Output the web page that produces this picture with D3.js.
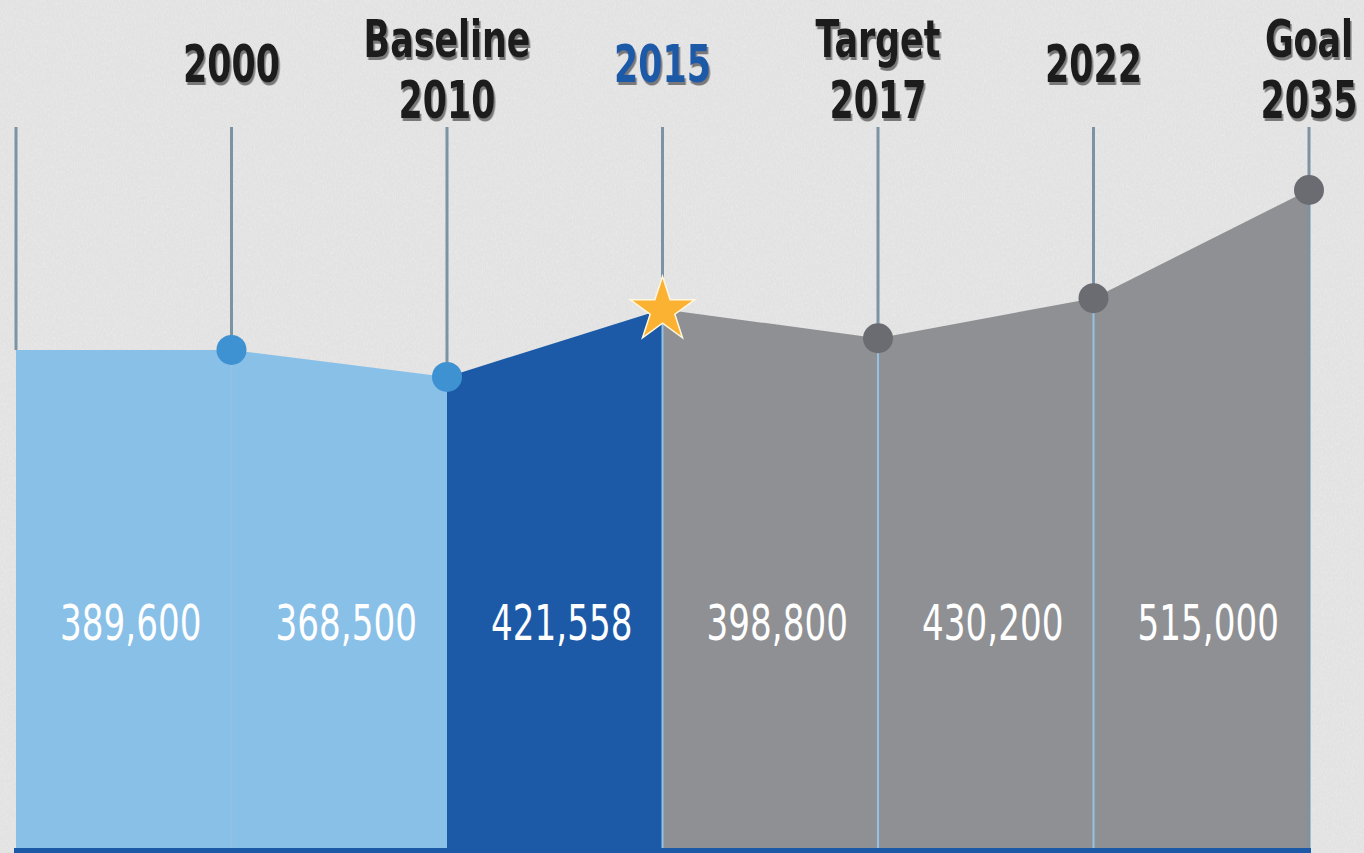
<!DOCTYPE html>
<html>
<head>
<meta charset="utf-8">
<script src="https://cdn.jsdelivr.net/npm/d3@7"></script>
<style>
  html, body { margin: 0; padding: 0; background: #e4e4e4; overflow: hidden; }
</style>
</head>
<body>
<div id="chart"></div>
<script>
// data
var years = ["start", "2000", "2010", "2015", "2017", "2022", "2035"];
var topLabels = ["", "", "Baseline", "", "Target", "", "Goal"];
var values = [389600, 389600, 368500, 421558, 398800, 430200, 515000];
// segment i runs from years[i] to years[i+1], labelled with the right-hand value
var segmentLabels = ["389,600", "368,500", "421,558", "398,800", "430,200", "515,000"];

var svgWidth = 1364;
var svgHeight = 853;

var svg = d3.select("#chart").append("svg")
  .attr("width", svgWidth)
  .attr("height", svgHeight);

// paper background
var defs = svg.append("defs");
var paper = defs.append("filter").attr("id", "paper")
  .attr("x", 0).attr("y", 0).attr("width", "100%").attr("height", "100%");
paper.append("feTurbulence")
  .attr("type", "fractalNoise")
  .attr("baseFrequency", "0.9 0.35")
  .attr("numOctaves", 3)
  .attr("seed", 4);
paper.append("feColorMatrix")
  .attr("type", "matrix")
  .attr("values", "0 0 0 0 1  0 0 0 0 1  0 0 0 0 1  0.9 0 0 0 -0.35");

var shadow = defs.append("filter").attr("id", "shadow")
  .attr("x", "-10%").attr("y", "-10%").attr("width", "130%").attr("height", "140%");
shadow.append("feDropShadow")
  .attr("dx", 2).attr("dy", 3)
  .attr("stdDeviation", 0.6)
  .attr("flood-color", "#6d6d6d")
  .attr("flood-opacity", 0.9);

svg.append("rect")
  .attr("width", svgWidth).attr("height", svgHeight)
  .attr("fill", "#e2e2e2");
svg.append("rect")
  .attr("width", svgWidth).attr("height", svgHeight)
  .attr("filter", "url(#paper)")
  .attr("opacity", 0.55);

// scales
var xScale = d3.scalePoint()
  .domain(years)
  .range([16, 1309]);

var yScale = d3.scaleLinear()
  .domain([0, 515000])
  .range([847, 190]);

var lineTop = 127;
var bottom = 848;

var segColors = ["#89c0e8", "#89c0e8", "#1c5aa8", "#8f9094", "#8f9094", "#8f9094"];

// area segments
var segments = d3.range(years.length - 1).map(function(i) {
  return { i: i, x0: xScale(years[i]), x1: xScale(years[i + 1]),
           v0: values[i], v1: values[i + 1], label: segmentLabels[i] };
});

var area = d3.area()
  .x(function(d) { return d[0]; })
  .y0(bottom)
  .y1(function(d) { return yScale(d[1]); });

svg.selectAll(".seg")
  .data(segments)
  .enter()
  .append("path")
  .attr("class", "seg")
  .attr("d", function(d) { return area([[d.x0, d.v0], [d.x1, d.v1]]); })
  .attr("fill", function(d) { return segColors[d.i]; });

// bottom band
svg.append("rect")
  .attr("x", xScale(years[0]) - 2)
  .attr("y", bottom)
  .attr("width", xScale(years[years.length - 1]) - xScale(years[0]) + 4)
  .attr("height", svgHeight - bottom)
  .attr("fill", "#1c5aa8");

// vertical stems above the area
svg.selectAll(".stem")
  .data(years)
  .enter()
  .append("line")
  .attr("class", "stem")
  .attr("x1", function(d) { return xScale(d); })
  .attr("x2", function(d) { return xScale(d); })
  .attr("y1", lineTop)
  .attr("y2", function(d, i) { return i === years.length - 1 ? bottom : yScale(values[i]); })
  .attr("stroke", "#7b93a2")
  .attr("stroke-width", 3);

// thin dividers inside the area
var inner = years.slice(1, years.length - 1);
svg.selectAll(".divider")
  .data(inner)
  .enter()
  .append("line")
  .attr("class", "divider")
  .attr("x1", function(d) { return xScale(d); })
  .attr("x2", function(d) { return xScale(d); })
  .attr("y1", function(d) { return yScale(values[years.indexOf(d)]); })
  .attr("y2", bottom)
  .attr("stroke", function(d) { return d === "2010" ? "none" : "#93c2e3"; })
  .attr("stroke-width", function(d) { return d === "2000" ? 1.5 : 2; });

// markers
var markerColor = { "2000": "#3f92d1", "2010": "#3f92d1", "2017": "#6b6c71", "2022": "#6b6c71", "2035": "#6b6c71" };
svg.selectAll(".dot")
  .data(years.filter(function(d) { return markerColor[d]; }))
  .enter()
  .append("circle")
  .attr("class", "dot")
  .attr("cx", function(d) { return xScale(d); })
  .attr("cy", function(d) { return yScale(values[years.indexOf(d)]); })
  .attr("r", 15)
  .attr("fill", function(d) { return markerColor[d]; });

// star for 2015
var star = d3.symbol().type(d3.symbolStar).size(1300);
svg.append("path")
  .attr("d", star())
  .attr("transform", "translate(" + xScale("2015") + "," + (yScale(values[3]) + 1) + ")")
  .attr("fill", "#fbb232")
  .attr("stroke", "#fff7e0")
  .attr("stroke-width", 1.5);

var condensed = 0.76;
var font = "'DejaVu Sans Condensed', 'DejaVu Sans', sans-serif";

// segment value labels
svg.selectAll(".value")
  .data(segments)
  .enter()
  .append("text")
  .attr("class", "value")
  .attr("transform", function(d) {
    return "translate(" + ((d.x0 + d.x1) / 2 + 7) + ",640) scale(" + condensed + ",1)";
  })
  .attr("text-anchor", "middle")
  .attr("fill", "#ffffff")
  .style("font-family", font)
  .style("font-size", "50px")
  .text(function(d) { return d.label; });

// year labels on top
years.forEach(function(y, i) {
  if (i === 0) return;
  var g = svg.append("g")
    .attr("transform", "translate(" + xScale(y) + ",0) scale(" + condensed + ",1)");
  var t = g.append("text")
    .attr("text-anchor", "middle")
    .attr("fill", y === "2015" ? "#1c5aa8" : "#1a1a1a")
    .attr("filter", "url(#shadow)")
    .style("font-family", font)
    .style("font-weight", "bold")
    .style("font-size", "51px");
  if (topLabels[i]) {
    t.append("tspan").attr("x", 0).attr("y", 57).text(topLabels[i]);
    t.append("tspan").attr("x", 0).attr("y", 118).text(y);
  } else {
    t.attr("y", 82).text(y);
  }
});
</script>
</body>
</html>
